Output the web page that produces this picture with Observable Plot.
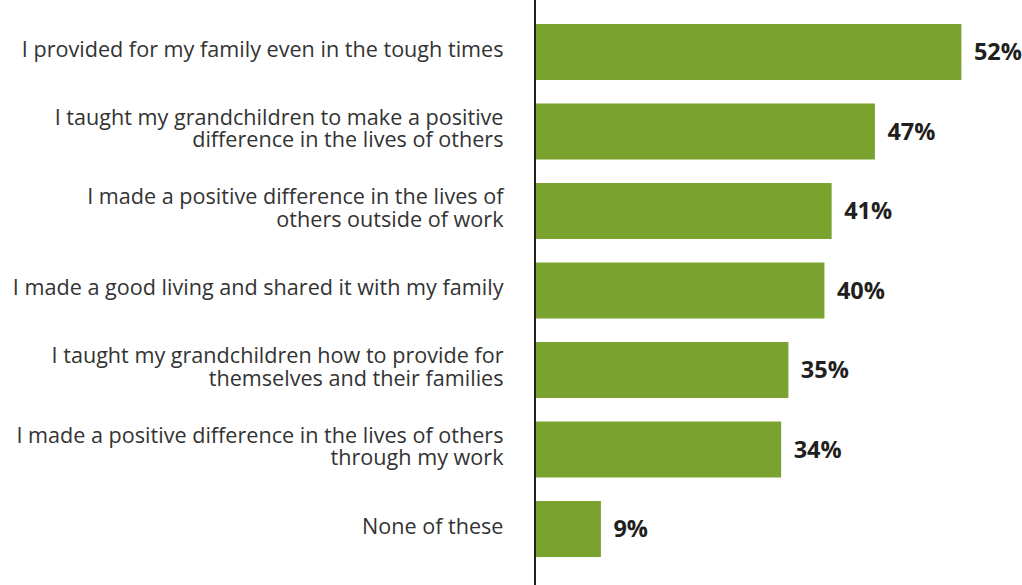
<!DOCTYPE html>
<html>
<head>
<meta charset="utf-8">
<script src="https://cdn.jsdelivr.net/npm/d3@7"></script>
<script src="https://cdn.jsdelivr.net/npm/@observablehq/plot@0.6"></script>
<style>
  html, body { margin: 0; padding: 0; background: #ffffff; }
  #chart { width: 1022px; height: 585px; overflow: hidden; }
</style>
</head>
<body>
<div id="chart"></div>
<script>
const categories = [
  "I provided for my family even in the tough times",
  "I taught my grandchildren to make a positive\ndifference in the lives of others",
  "I made a positive difference in the lives of\nothers outside of work",
  "I made a good living and shared it with my family",
  "I taught my grandchildren how to provide for\nthemselves and their families",
  "I made a positive difference in the lives of others\nthrough my work",
  "None of these"
];
// printed percentages
const values = [52, 47, 41, 40, 35, 34, 9];
// bar lengths as drawn in the reference (the first bar is drawn longer than its label)
const barLengths = [59, 47, 41, 40, 35, 34, 9];

const data = categories.map((c, i) => ({cat: c, value: values[i], len: barLengths[i]}));

const chart = Plot.plot({
  width: 1022,
  height: 585,
  marginLeft: 536,
  marginRight: 0,
  marginTop: 0,
  marginBottom: 0,
  x: {domain: [0, 67.4], axis: null},
  y: {domain: categories, axis: null, round: false, paddingInner: 0.2956, paddingOuter: 0.327, align: 0.4615},
  style: {fontFamily: "'Open Sans', 'Noto Sans', sans-serif", background: "#ffffff", overflow: "visible"},
  marks: [
    Plot.barX(data, {x: "len", y: "cat", fill: "#7aa22f"}),
    Plot.ruleX([0], {stroke: "#231f20", strokeWidth: 2, dx: -1.5}),
    Plot.text(data, {x: 0, y: "cat", text: "cat", textAnchor: "end", dx: -33, dy: -3,
      fontSize: 21.6, fontWeight: 400, fill: "#333333", lineHeight: 1.04}),
    Plot.text(data, {x: "len", y: "cat", text: d => d.value + "%", textAnchor: "start", dx: 12,
      fontSize: 23.5, fontWeight: "bold", fill: "#231f20"})
  ]
});
document.getElementById("chart").appendChild(chart);
</script>
</body>
</html>
